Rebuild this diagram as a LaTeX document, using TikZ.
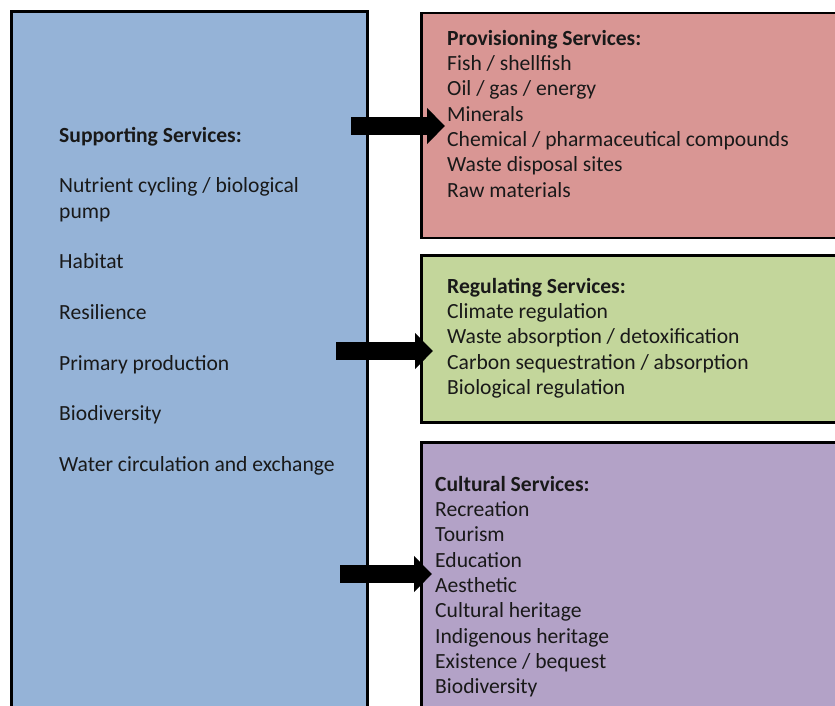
\documentclass[tikz,border=0pt]{standalone}
\usepackage{fontspec}
\setmainfont{Carlito}
\usetikzlibrary{arrows.meta}
\definecolor{supblue}{RGB}{149,179,215}
\definecolor{provred}{RGB}{217,150,148}
\definecolor{reggreen}{RGB}{195,214,155}
\definecolor{cultpurple}{RGB}{179,162,199}

\begin{document}
\begin{tikzpicture}[x=1pt, y=-1pt]
\tikzset{servbox/.style={draw, rectangle, line width=2.5pt, anchor=north west, inner sep=0pt},
  servtext/.style={anchor=north west, align=left, inner sep=0pt, text=black!90,
    font=\fontsize{21.6pt}{25.3pt}\selectfont},
  bigarrow/.style={line width=18pt, -{Triangle[length=18pt, width=35pt]}}}
\useasboundingbox (0, 0) rectangle (835, 705);
\clip (0, 0) rectangle (835, 705);
\node[servbox, fill=supblue, minimum width=356pt, minimum height=715pt] (Sup) at (10, 10) {};
\node[servbox, fill=provred, minimum width=430pt, minimum height=225pt] (Prov) at (420, 11.5) {};
\node[servbox, fill=reggreen, minimum width=430pt, minimum height=167pt] (Reg) at (420, 254) {};
\node[servbox, fill=cultpurple, minimum width=430pt, minimum height=285pt] (Cult) at (420, 441) {};
\node[servtext] (SupText) at (59, 127) {\textbf{Supporting Services:}\\[25.3pt]
  Nutrient cycling / biological\\ pump\\[25.3pt]
  Habitat\\[25.3pt]
  Resilience\\[25.3pt]
  Primary production\\[25.3pt]
  Biodiversity\\[25.3pt]
  Water circulation and exchange};
\node[servtext] (ProvText) at (447, 30) {\textbf{Provisioning Services:}\\
  Fish / shellfish\\ Oil / gas / energy\\ Minerals\\
  Chemical / pharmaceutical compounds\\ Waste disposal sites\\ Raw materials};
\node[servtext] (RegText) at (447, 278) {\textbf{Regulating Services:}\\
  Climate regulation\\ Waste absorption / detoxification\\
  Carbon sequestration / absorption\\ Biological regulation};
\node[servtext] (CultText) at (435, 476) {\textbf{Cultural Services:}\\
  Recreation\\ Tourism\\ Education\\ Aesthetic\\ Cultural heritage\\
  Indigenous heritage\\ Existence / bequest\\ Biodiversity};
\coordinate (A1s) at (351, 126);
\coordinate (A1e) at (445, 126);
\coordinate (A2s) at (336, 351);
\coordinate (A2e) at (433, 351);
\coordinate (A3s) at (340, 574);
\coordinate (A3e) at (432, 574);
\draw[bigarrow] (A1s) -- (A1e);
\draw[bigarrow] (A2s) -- (A2e);
\draw[bigarrow] (A3s) -- (A3e);
\end{tikzpicture}
\end{document}
